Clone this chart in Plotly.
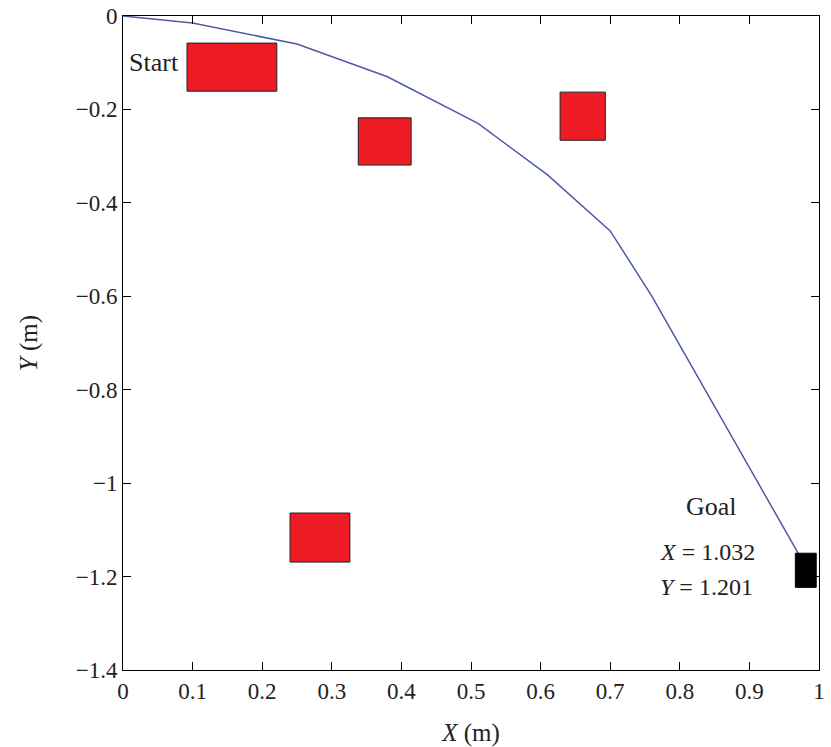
import plotly.graph_objects as go

# Path of the robot
path_x = [0.0, 0.10, 0.25, 0.38, 0.51, 0.61, 0.70, 0.76, 0.97]
path_y = [0.0, -0.015, -0.06, -0.13, -0.23, -0.34, -0.46, -0.60, -1.15]

# Obstacles (x0, x1, y0, y1)
obs_x0 = [0.092, 0.338, 0.628, 0.240]
obs_x1 = [0.221, 0.414, 0.693, 0.326]
obs_y0 = [-0.058, -0.218, -0.163, -1.064]
obs_y1 = [-0.161, -0.319, -0.266, -1.169]

# Goal block
goal_x0, goal_x1 = 0.966, 0.996
goal_y0, goal_y1 = -1.150, -1.223

x_ticks = [0, 0.1, 0.2, 0.3, 0.4, 0.5, 0.6, 0.7, 0.8, 0.9, 1]
y_ticks = [0, -0.2, -0.4, -0.6, -0.8, -1, -1.2, -1.4]

FONT = "Liberation Serif, Times New Roman, serif"
TXT = "#222222"

fig = go.Figure()
fig.add_trace(go.Scatter(x=path_x, y=path_y, mode="lines",
                         line=dict(color="#4f5aa6", width=1.5),
                         showlegend=False, hoverinfo="skip"))

for x0, x1, y0, y1 in zip(obs_x0, obs_x1, obs_y0, obs_y1):
    fig.add_shape(type="rect", x0=x0, x1=x1, y0=y0, y1=y1, xref="x", yref="y",
                  fillcolor="#ed1c24", line=dict(color="#222222", width=1))
fig.add_shape(type="rect", x0=goal_x0, x1=goal_x1, y0=goal_y0, y1=goal_y1,
              xref="x", yref="y", fillcolor="black", line=dict(color="black", width=1))

fig.add_annotation(x=0.044, y=-0.10, text="Start", showarrow=False,
                   font=dict(family=FONT, size=26, color=TXT))
fig.add_annotation(x=0.846, y=-1.051, text="Goal", showarrow=False,
                   font=dict(family=FONT, size=26, color=TXT))
fig.add_annotation(x=0.769, y=-1.148, text="<i>X</i> = 1.032", showarrow=False,
                   xanchor="left", font=dict(family=FONT, size=24, color=TXT))
fig.add_annotation(x=0.769, y=-1.223, text="<i>Y</i> = 1.201", showarrow=False,
                   xanchor="left", font=dict(family=FONT, size=24, color=TXT))

fig.update_layout(
    width=831, height=747,
    margin=dict(l=123, r=12, t=16, b=77),
    paper_bgcolor="white", plot_bgcolor="white",
    font=dict(family=FONT, size=23, color=TXT),
    xaxis=dict(range=[0, 1], tickvals=x_ticks, ticktext=[str(v) for v in x_ticks],
               ticks="inside", ticklen=8, tickcolor="black", mirror="ticks",
               showline=True, linecolor="black", linewidth=1, showgrid=False,
               zeroline=False, automargin=False,
               title=dict(text="<i>X</i> (m)", font=dict(family=FONT, size=25), standoff=22)),
    yaxis=dict(range=[-1.4, 0], tickvals=y_ticks,
               ticktext=[("\u2212" + str(abs(v))) if v < 0 else "0" for v in y_ticks],
               ticks="inside", ticklen=8, tickcolor="black", mirror="ticks",
               showline=True, linecolor="black", linewidth=1, showgrid=False,
               zeroline=False, automargin=False,
               title=dict(text="<i>Y</i> (m)", font=dict(family=FONT, size=25), standoff=30)),
)

fig.write_html("out.html", config={"displayModeBar": False},
               post_script="document.body.style.margin='0';document.body.style.overflow='hidden';")
